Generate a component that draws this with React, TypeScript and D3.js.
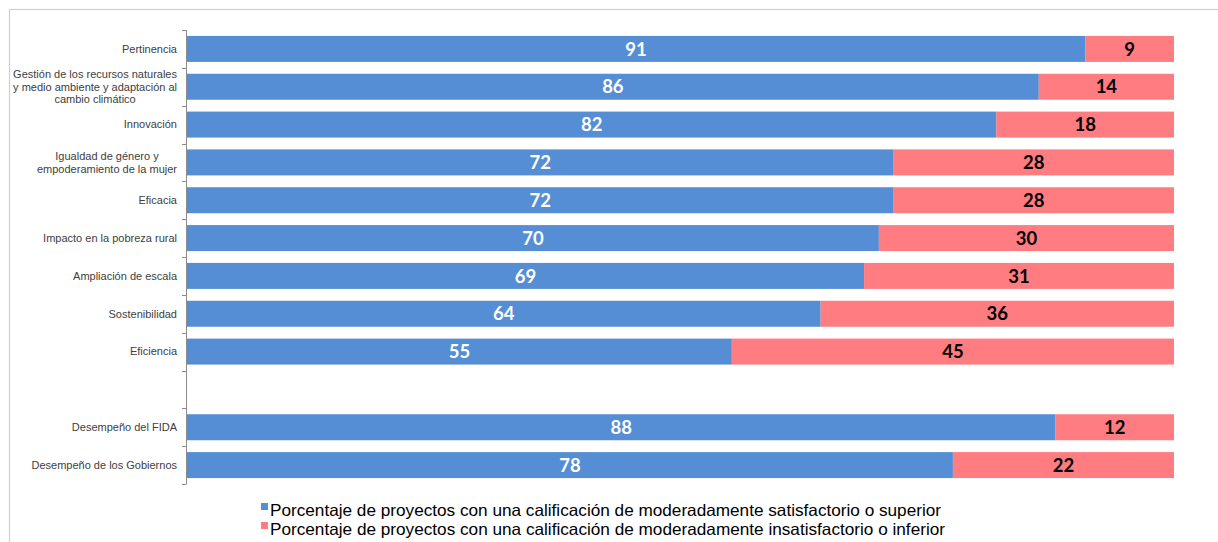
import React, { useEffect, useRef } from "react";
import * as d3 from "d3";

const categories: string[] = [
  "Pertinencia",
  "Gestión de los recursos naturales\ny medio ambiente y adaptación al\ncambio climático",
  "Innovación",
  "Igualdad de género y\nempoderamiento de la mujer",
  "Eficacia",
  "Impacto en la pobreza rural",
  "Ampliación de escala",
  "Sostenibilidad",
  "Eficiencia",
  "",
  "Desempeño del FIDA",
  "Desempeño de los Gobiernos",
];

const satisfactory: (number | null)[] = [91, 86.3, 82, 71.6, 71.6, 70.1, 68.6, 64.2, 55.2, null, 88, 77.6];
const unsatisfactory: (number | null)[] = [9, 13.7, 18, 28.4, 28.4, 29.9, 31.4, 35.8, 44.8, null, 12, 22.4];

const seriesNames: string[] = [
  "Porcentaje de proyectos con una calificación de moderadamente satisfactorio o superior",
  "Porcentaje de proyectos con una calificación de moderadamente insatisfactorio o inferior",
];

const colors = ["#558ED5", "#FF7C80"];
const labelColors = ["#FFFFFF", "#000000"];

const W = 1218;
const H = 542;

export default function App() {
  const ref = useRef<SVGSVGElement | null>(null);

  useEffect(() => {
    const svg = d3.select(ref.current);
    svg.selectAll("*").remove();

    svg
      .append("rect")
      .attr("x", 9.5)
      .attr("y", 9.5)
      .attr("width", W + 10)
      .attr("height", H + 10)
      .attr("fill", "#fff")
      .attr("stroke", "#D0D0D0")
      .attr("stroke-width", 1.2);

    const x = d3.scaleLinear().domain([0, 100]).range([187, 1174]);
    const y = d3
      .scaleBand<number>()
      .domain(d3.range(categories.length))
      .range([30, 484])
      .paddingInner(0.313)
      .paddingOuter(0.1565);

    const stackData = categories.map((c, i) => ({
      i,
      a: satisfactory[i],
      b: unsatisfactory[i],
    }));

    const g = svg.append("g");

    stackData.forEach((d) => {
      if (d.a == null || d.b == null) return;
      const segs = [
        { v0: 0, v1: d.a, val: d.a, k: 0 },
        { v0: d.a, v1: d.a + d.b, val: d.b, k: 1 },
      ];
      segs.forEach((s) => {
        g.append("rect")
          .attr("x", x(s.v0))
          .attr("y", y(d.i)!)
          .attr("width", x(s.v1) - x(s.v0))
          .attr("height", y.bandwidth())
          .attr("fill", colors[s.k]);
        g.append("text")
          .attr("x", (x(s.v0) + x(s.v1)) / 2)
          .attr("y", y(d.i)! + y.bandwidth() / 2)
          .attr("dy", "0.36em")
          .attr("text-anchor", "middle")
          .attr("font-family", "Lato, 'Open Sans', sans-serif")
          .attr("font-weight", 700)
          .attr("font-size", 18.5)
          .attr("fill", labelColors[s.k])
          .text(String(Math.round(s.val)));
      });
    });

    const axisColor = "#8C8C8C";
    svg
      .append("line")
      .attr("x1", 186.5)
      .attr("x2", 186.5)
      .attr("y1", 30)
      .attr("y2", 484)
      .attr("stroke", axisColor)
      .attr("stroke-width", 1);
    const step = y.step();
    d3.range(categories.length + 1).forEach((k) => {
      const yy = Math.round(30 + k * step) + 0.5;
      svg
        .append("line")
        .attr("x1", 182)
        .attr("x2", 186.5)
        .attr("y1", yy)
        .attr("y2", yy)
        .attr("stroke", axisColor)
        .attr("stroke-width", 1);
    });

    const labelRight = 177;
    const lineH = 12.6;
    categories.forEach((c, i) => {
      if (!c) return;
      const lines = c.split("\n");
      const cy = y(i)! + y.bandwidth() / 2;
      const t = svg
        .append("text")
        .attr("font-family", "'Liberation Sans', Arial, sans-serif")
        .attr("font-size", 11)
        .attr("fill", "#404040");
      const tspans = lines.map((ln, j) =>
        t
          .append("tspan")
          .attr("y", cy + (j - (lines.length - 1) / 2) * lineH)
          .attr("dy", "0.35em")
          .text(ln)
      );
      const widths = tspans.map((ts) => (ts.node() as SVGTSpanElement).getComputedTextLength());
      const maxW = d3.max(widths) || 0;
      const cx = labelRight - maxW / 2;
      tspans.forEach((ts) => ts.attr("x", cx).attr("text-anchor", "middle"));
    });

    const legendX = 261;
    const legendBase = [516, 535];
    const legendLen = [671, 675];
    seriesNames.forEach((n, k) => {
      svg
        .append("rect")
        .attr("x", legendX)
        .attr("y", legendBase[k] - 13)
        .attr("width", 7)
        .attr("height", 7)
        .attr("fill", colors[k]);
      svg
        .append("text")
        .attr("x", legendX + 9)
        .attr("y", legendBase[k])
        .attr("font-family", "'Liberation Sans', Arial, sans-serif")
        .attr("font-size", 16.5)
        .attr("fill", "#000")
        .attr("textLength", legendLen[k])
        .attr("lengthAdjust", "spacingAndGlyphs")
        .text(n);
    });
  }, []);

  return (
    <svg
      ref={ref}
      width={W}
      height={H}
      style={{ position: "absolute", left: 0, top: 0, background: "#fff" }}
    />
  );
}
